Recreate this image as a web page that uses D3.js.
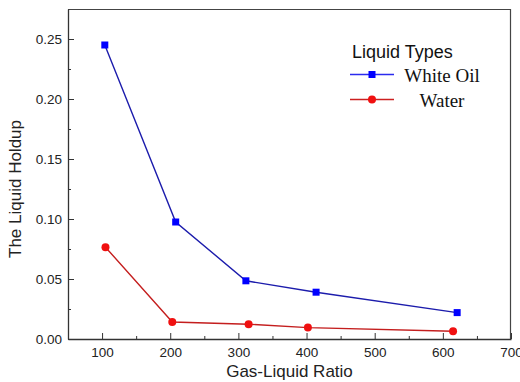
<!DOCTYPE html>
<html>
<head>
<meta charset="utf-8">
<script src="https://cdn.jsdelivr.net/npm/d3@7"></script>
<style>
  body { margin: 0; background: #fff; }
  .axis text { font-family: "Liberation Sans", Arial, sans-serif; font-size: 13.5px; fill: #222; }
  .axis path, .axis line { stroke: #333; }
</style>
</head>
<body>
<svg width="520" height="382"></svg>
<script>
// data
var oilRatio = [104, 208, 311, 414, 621],
    oilHoldup = [0.245, 0.0975, 0.0485, 0.039, 0.022];
var waterRatio = [105, 203, 315, 402, 615],
    waterHoldup = [0.0765, 0.0142, 0.0123, 0.0095, 0.0065];
var xTicks = [100, 200, 300, 400, 500, 600, 700],
    xMinor = [150, 250, 350, 450, 550, 650],
    yTicks = [0, 0.05, 0.10, 0.15, 0.20, 0.25],
    yMinor = [0.025, 0.075, 0.125, 0.175, 0.225];
var series = [
  {name: "White Oil", xs: oilRatio, ys: oilHoldup, line: "#1c1cac", mark: "#0000ff", key: "#2b2bee", shape: "square"},
  {name: "Water", xs: waterRatio, ys: waterHoldup, line: "#c41e1e", mark: "#f01010", key: "#cc2020", shape: "circle"}
];

var svg = d3.select("svg"),
    margin = {top: 9, right: 9, bottom: 43, left: 68},
    width = +svg.attr("width") - margin.left - margin.right,
    height = +svg.attr("height") - margin.top - margin.bottom;

var x = d3.scaleLinear().domain([50, 700]).range([0, width]),
    y = d3.scaleLinear().domain([0, 0.275]).range([height, 0]);

var g = svg.append("g")
    .attr("transform", "translate(" + margin.left + "," + margin.top + ")");

// frame top and right
g.append("path")
    .attr("d", "M0,0.5H" + (width - 0.5) + "V" + height)
    .attr("fill", "none")
    .attr("stroke", "#444")
    .attr("stroke-width", 1.2);

// minor ticks
g.append("g")
    .attr("class", "axis")
    .attr("transform", "translate(0," + height + ")")
    .call(d3.axisBottom(x).tickValues(xMinor).tickSize(-3).tickFormat(""))
    .call(function(s) { s.select(".domain").remove(); });
g.append("g")
    .attr("class", "axis")
    .call(d3.axisLeft(y).tickValues(yMinor).tickSize(-3).tickFormat(""))
    .call(function(s) { s.select(".domain").remove(); });

g.append("g")
    .attr("class", "axis axis--x")
    .attr("transform", "translate(0," + height + ")")
    .call(d3.axisBottom(x).tickValues(xTicks).tickSizeInner(-6).tickSizeOuter(0).tickPadding(6))
    .call(function(s) {
      s.select(".domain").attr("stroke", "#555").attr("stroke-width", 1.6);
      s.selectAll("text").attr("dy", "0.9em");
    });

g.append("g")
    .attr("class", "axis axis--y")
    .call(d3.axisLeft(y).tickValues(yTicks).tickSizeInner(-6).tickSizeOuter(0).tickPadding(6)
      .tickFormat(d3.format(".2f")))
    .call(function(s) {
      s.select(".domain").attr("stroke", "#111").attr("stroke-width", 1.3);
    });

// axis titles
svg.append("text")
    .attr("x", margin.left + width / 2)
    .attr("y", 377)
    .attr("text-anchor", "middle")
    .style("font-family", "Liberation Sans, Arial, sans-serif")
    .style("font-size", "17px")
    .style("fill", "#222")
    .text("Gas-Liquid Ratio");

svg.append("text")
    .attr("transform", "rotate(-90)")
    .attr("x", -189)
    .attr("y", 21)
    .attr("text-anchor", "middle")
    .style("font-family", "Liberation Sans, Arial, sans-serif")
    .style("font-size", "17px")
    .style("fill", "#222")
    .text("The Liquid Holdup");

var line = d3.line()
    .x(function(d) { return x(d[0]); })
    .y(function(d) { return y(d[1]); });

function drawMark(sel, s, cx, cy) {
  if (s.shape === "square") {
    sel.append("rect")
        .attr("x", cx - 3.5).attr("y", cy - 3.5)
        .attr("width", 7).attr("height", 7)
        .attr("fill", s.mark);
  } else {
    sel.append("circle")
        .attr("cx", cx).attr("cy", cy).attr("r", 4)
        .attr("fill", s.mark);
  }
}

series.forEach(function(s) {
  var pts = s.xs.map(function(v, i) { return [v, s.ys[i]]; });
  g.append("path")
      .datum(pts)
      .attr("fill", "none")
      .attr("stroke", s.line)
      .attr("stroke-width", 1.4)
      .attr("d", line);
  var mg = g.append("g");
  pts.forEach(function(p) { drawMark(mg, s, x(p[0]), y(p[1])); });
});

// legend
var lg = svg.append("g");
lg.append("text")
    .attr("x", 352).attr("y", 58)
    .style("font-family", "Liberation Sans, Arial, sans-serif")
    .style("font-size", "18px")
    .style("fill", "#111")
    .text("Liquid Types");

series.forEach(function(s, i) {
  var ly = 74.5 + i * 25;
  lg.append("line")
      .attr("x1", 350).attr("x2", 394)
      .attr("y1", ly).attr("y2", ly)
      .attr("stroke", s.key)
      .attr("stroke-width", 1.6);
  drawMark(lg, s, 372, ly);
  lg.append("text")
      .attr("x", 442).attr("y", ly + 7)
      .attr("text-anchor", "middle")
      .style("font-family", "Liberation Serif, Times New Roman, serif")
      .style("font-size", "19px")
      .style("fill", "#111")
      .text(s.name);
});
</script>
</body>
</html>
